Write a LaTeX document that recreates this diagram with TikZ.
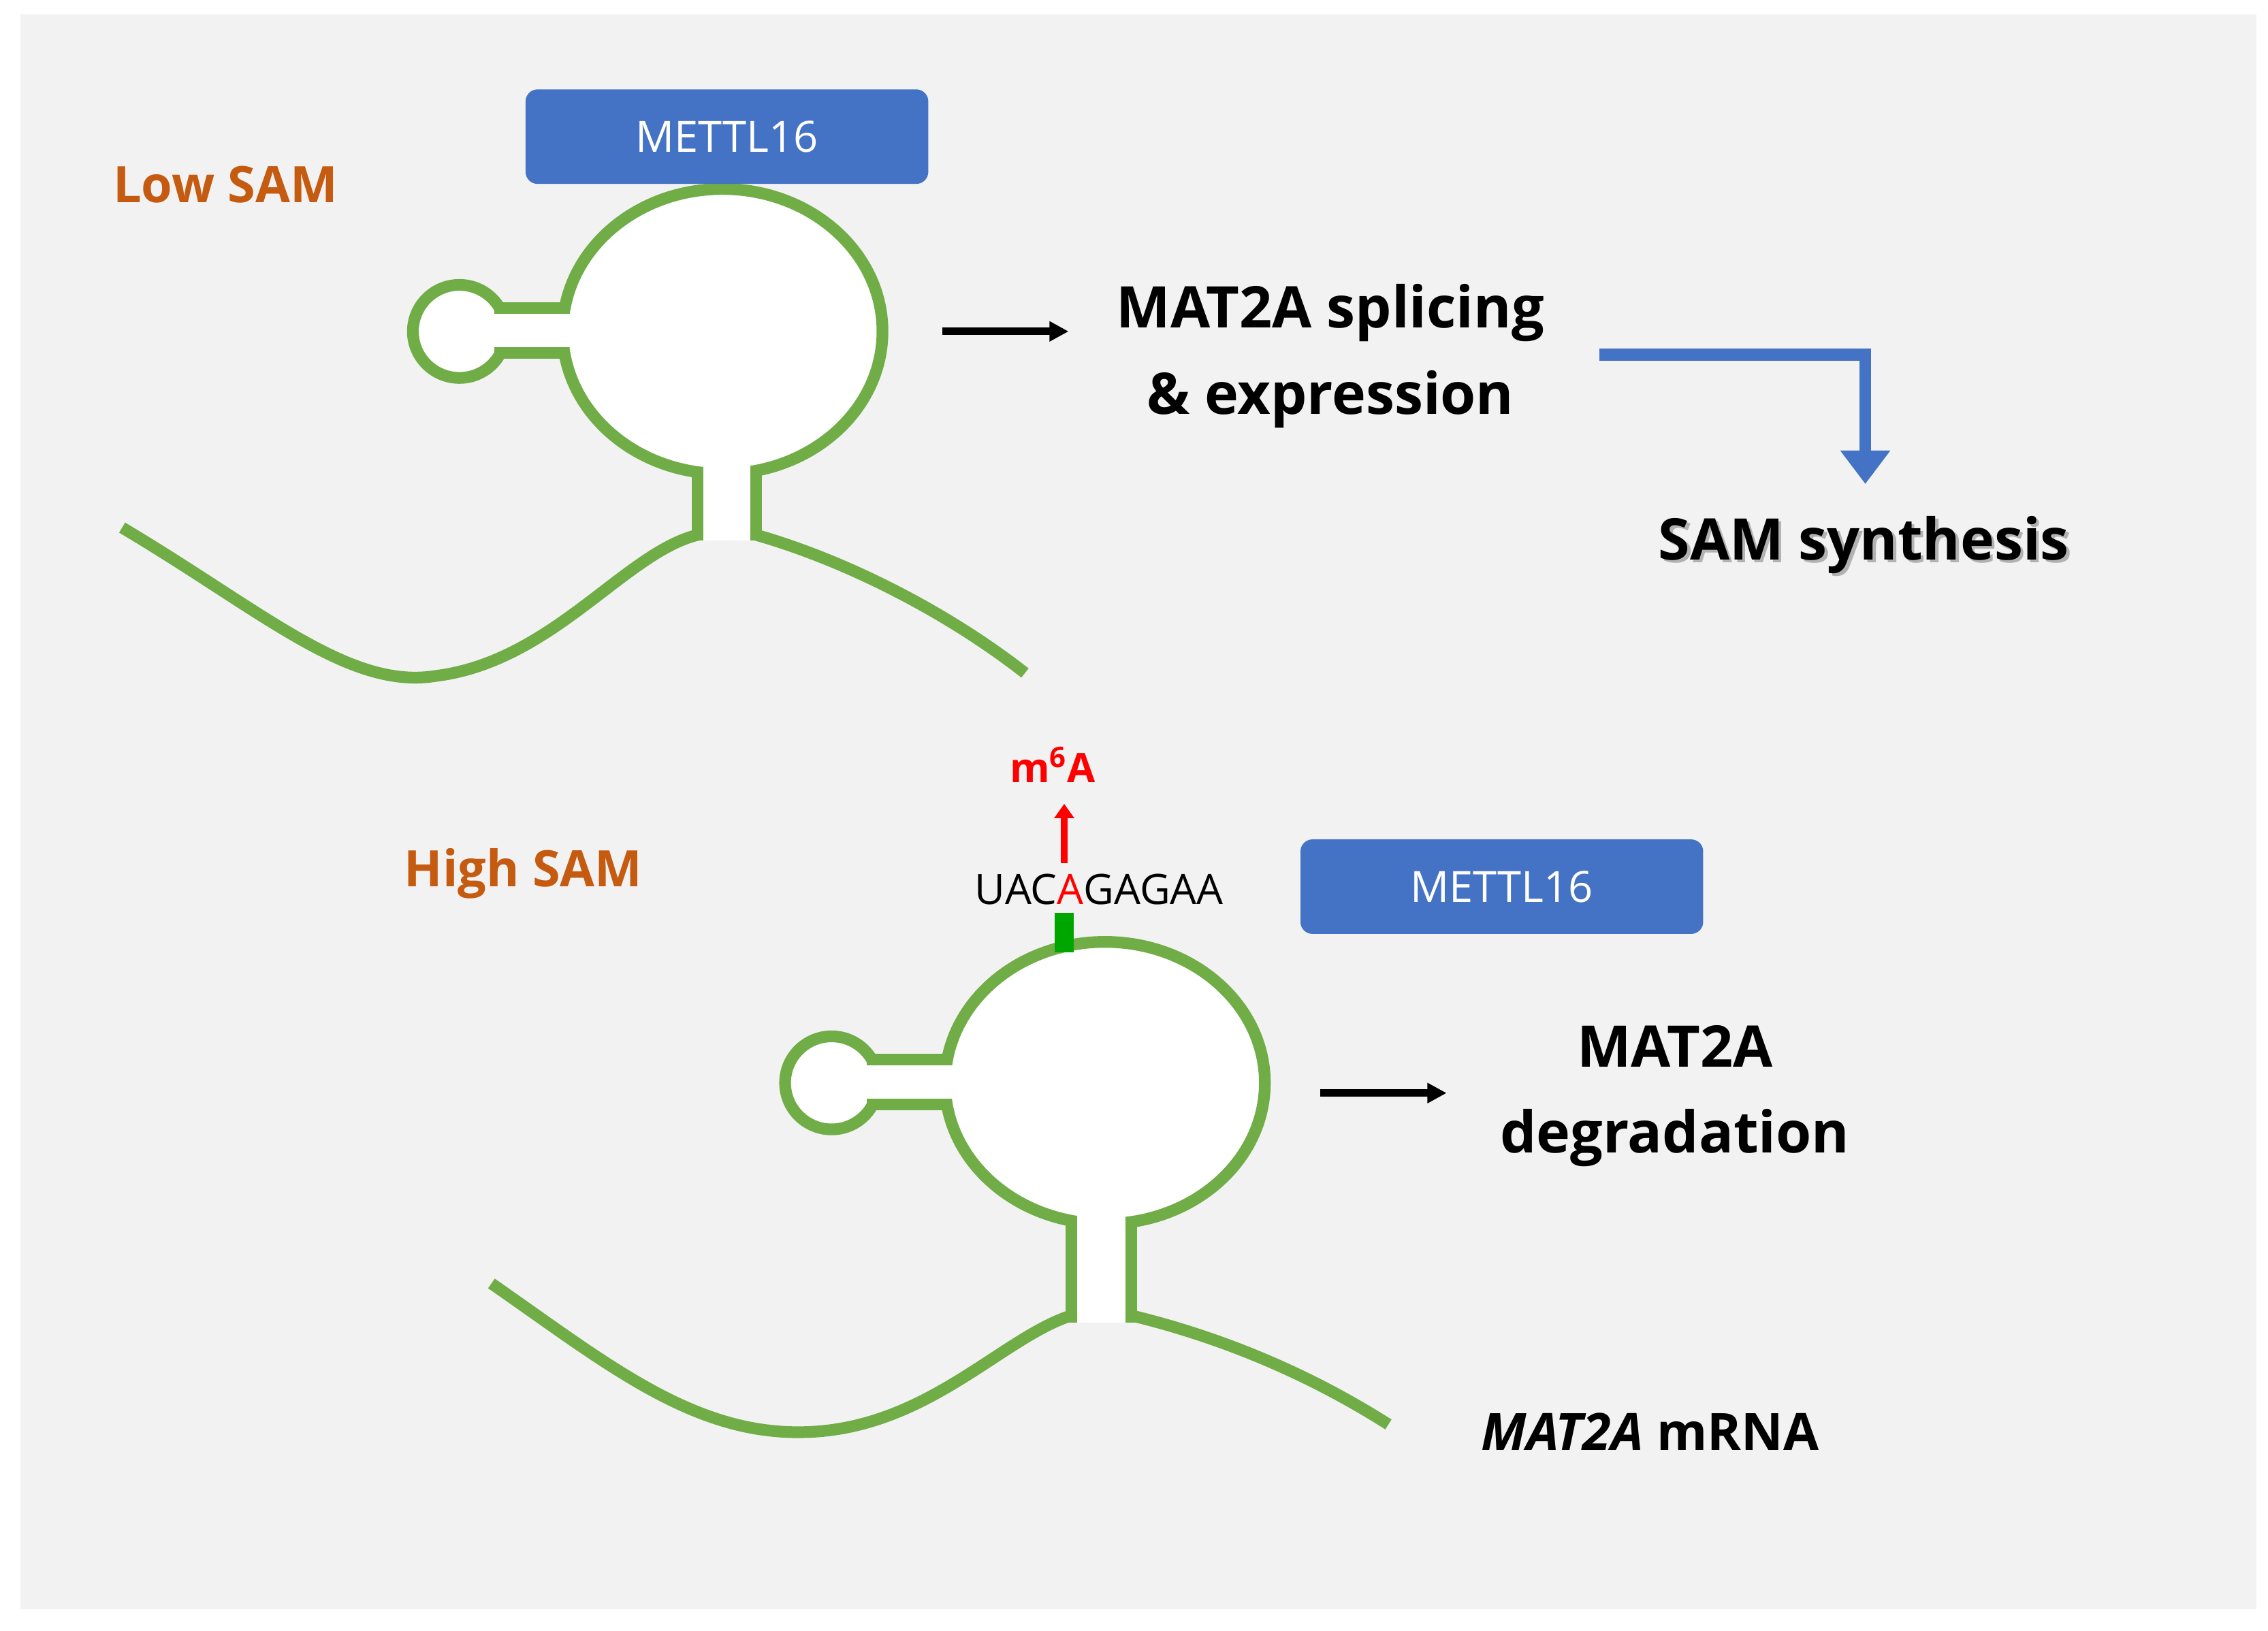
\documentclass[tikz,border=0pt]{standalone}
\usepackage{fontspec}
\setmainfont{Open Sans}
\usetikzlibrary{arrows.meta}
\definecolor{rna}{HTML}{70AD47}
\definecolor{bx}{HTML}{4472C4}
\definecolor{org}{HTML}{C55A11}
\definecolor{bg}{HTML}{F2F2F2}
\begin{document}
\begin{tikzpicture}[x=0.021353cm,y=-0.021353cm,
 rnaline/.style={draw=rna,line width=4.9pt},
 loop/.style={rnaline,fill=white},
 box/.style={fill=bx,rounded corners=5pt,text=white,font=\fontsize{18}{21}\selectfont},
 lbl/.style={text=org,font=\fontsize{21}{24}\selectfont\bfseries},
 big/.style={font=\fontsize{24}{36}\selectfont\bfseries,align=center},
 blk/.style={-{Triangle[length=8pt,width=8pt]},line width=3.2pt}]
\useasboundingbox (0,0) rectangle (1560,1122);
\fill[bg] (14,10) rectangle (1552,1107);
% ---- top structure
\coordinate (tL) at (84,363); \coordinate (tS1) at (480,368);
\coordinate (tS2) at (520,368); \coordinate (tR) at (705,463);
\draw[rnaline] (tL) .. controls (180,420) and (240,475) .. (300,465) .. controls (380,455) and (430,380) .. (tS1);
\draw[rnaline] (tS2) .. controls (580,385) and (650,420) .. (tR);
\draw[rnaline] (480,372) -- (480,305); \draw[rnaline] (520,372) -- (520,305);
\draw[loop] (316,228) circle (32);
\draw[rnaline] (340,212) -- (400,212); \draw[rnaline] (340,243) -- (400,243);
\draw[loop] (497,228) ellipse (110 and 98);
\fill[white] (484,300) rectangle (516,372);
\fill[white] (340,216) rectangle (400,239);
\node[box,minimum width=277*0.021353cm,minimum height=65*0.021353cm] (m1) at (500,94) {METTL16};
\node[lbl] (low) at (155,127) {Low SAM};
\coordinate (a1s) at (648,228); \coordinate (a1e) at (735,228);
\draw[blk] (a1s) -- (a1e);
\node[big] (t1) at (915,245) {MAT2A splicing\\\& expression};
\coordinate (b1) at (1100,244); \coordinate (b2) at (1283,244);\coordinate (b3) at (1283,333);
\draw[bx,line width=5pt,-{Triangle[length=14pt,width=20pt]}] (b1) -- (b2) -- (b3);
\node[big] (sam) at (1284,377) {\textcolor{gray!60}{SAM synthesis}};
\node[big] at (1282,375) {SAM synthesis};
% ---- bottom structure
\coordinate (uL) at (338,883); \coordinate (uS1) at (737,905);
\coordinate (uS2) at (778,905); \coordinate (uR) at (955,980);
\draw[rnaline] (uL) .. controls (420,940) and (480,990) .. (560,985) .. controls (640,980) and (690,920) .. (uS1);
\draw[rnaline] (uS2) .. controls (840,920) and (900,945) .. (uR);
\draw[rnaline] (737,910) -- (737,820); \draw[rnaline] (778,910) -- (778,820);
\draw[loop] (572,745) circle (32);
\draw[rnaline] (596,729) -- (660,729); \draw[rnaline] (596,760) -- (660,760);
\draw[loop] (760,745) ellipse (110 and 97);
\fill[white] (741,815) rectangle (774,910);
\fill[white] (596,733) rectangle (660,756);
\draw[green!65!black,line width=8pt] (732,628) -- (732,655);
\node[box,minimum width=277*0.021353cm,minimum height=65*0.021353cm] (m2) at (1033,610) {METTL16};
\node[lbl] (high) at (360,601) {High SAM};
\node[font=\fontsize{17.5}{20}\selectfont] (seq) at (756,612) {UAC\textcolor{red}{A}GAGAA};
\coordinate (r1) at (732,594); \coordinate (r2) at (732,553);
\draw[red,line width=2.8pt,-{Triangle[length=6pt,width=8pt]}] (r1) -- (r2);
\node[text=red,font=\fontsize{17}{20}\selectfont\bfseries] (m6a) at (724,526) {m$^{\mathbf{6}}$A};
\coordinate (a2s) at (908,752); \coordinate (a2e) at (995,752);
\draw[blk] (a2s) -- (a2e);
\node[big] (t2) at (1152,754) {MAT2A\\degradation};
\node[font=\fontsize{21.5}{24}\selectfont\bfseries] (mrna) at (1135,985) {\textit{MAT2A} mRNA};
\end{tikzpicture}
\end{document}
